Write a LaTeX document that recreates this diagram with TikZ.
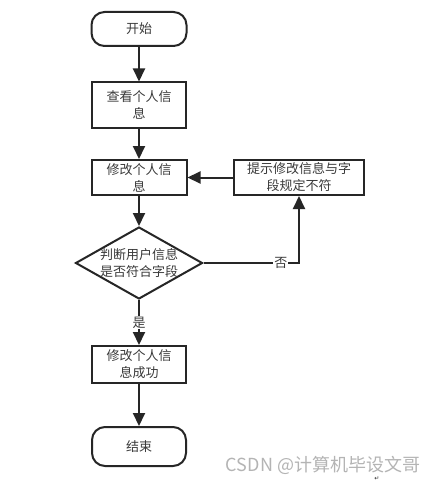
\documentclass[tikz,border=0pt]{standalone}
\usepackage{fontspec}
\setmainfont{Liberation Serif}
\newfontfamily\cjk{Noto Sans CJK SC}
\newfontfamily\dejavu{DejaVu Sans}
\usetikzlibrary{shapes.geometric,arrows.meta}
\definecolor{ink}{HTML}{262626}
\definecolor{txt}{HTML}{3A3A3A}
\definecolor{wm}{HTML}{B4B4B4}
\begin{document}
\begin{tikzpicture}[x=1pt,y=-1pt,
  every node/.style={font=\cjk\fontsize{13}{17}\selectfont, text=txt},
  proc/.style={draw=ink, line width=2pt, rectangle, inner sep=0pt, align=center},
  term/.style={draw=ink, line width=2pt, rectangle, rounded corners=13pt, inner sep=0pt, align=center},
  dec/.style={draw=ink, line width=2pt, diamond, inner sep=0pt},
  flow/.style={draw=ink, line width=2pt, -{Triangle[length=13pt,width=12pt]}},
  lab/.style={fill=white, inner sep=1pt}
]
\useasboundingbox (0,0) rectangle (444,484);
\fill[white] (0,0) rectangle (444,484);

\node[term, minimum width=95pt, minimum height=34pt] (start) at (139,29) {开始};
\node[proc, minimum width=94pt, minimum height=45pt, text width=80pt] (b1) at (139,105) {查看个人信\\息};
\node[proc, minimum width=95pt, minimum height=35pt, text width=80pt] (b2) at (139,177.5) {修改个人信\\息};
\node[proc, minimum width=130pt, minimum height=35pt, text width=120pt] (hint) at (299,177.5) {提示修改信息与字\\段规定不符};
\node[dec, minimum width=127pt, minimum height=72pt] (d) at (139,263) {};
\node[align=center, inner sep=0pt] (dt) at (d.center) {判断用户信息\\是否符合字段};
\node[proc, minimum width=94pt, minimum height=37pt, text width=80pt] (b3) at (139,364.5) {修改个人信\\息成功};
\node[term, minimum width=94pt, minimum height=39pt] (end) at (139,446.5) {结束};

\draw[flow] (start.south) -- (b1.north);
\draw[flow] (b1.south) -- (b2.north);
\draw[flow] (b2.south) -- (d.north);
\draw[flow] (hint.west) -- (b2.east);
\draw[flow] (d.east) -| node[lab, pos=0.405] {否} (hint.south);
\draw[flow] (d.south) -- node[lab, pos=0.5] {是} (b3.north);
\draw[flow] (b3.south) -- (end.north);

\node[font=\cjk\fontsize{18}{20}\selectfont, text=wm, inner sep=0pt] (wmark) at (323,465) {CSDN @计算机毕设文哥};
\node[font=\dejavu\fontsize{6}{7}\selectfont, text=ink, inner sep=0pt] (ret) at (377,479) {↵};
\end{tikzpicture}
\end{document}
